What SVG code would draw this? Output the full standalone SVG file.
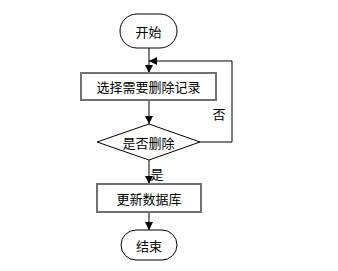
<svg xmlns="http://www.w3.org/2000/svg" width="338" height="271" viewBox="0 0 338 271">
<defs>
<marker id="arr" viewBox="0 0 10 10" refX="10" refY="5" markerWidth="8" markerHeight="8" markerUnits="userSpaceOnUse" orient="auto">
<path d="M0,0 L10,5 L0,10 z" fill="#000"/>
</marker>
<style>
.t{font-family:"Noto Sans CJK SC","Liberation Sans",sans-serif;font-size:13px;fill:#000;text-anchor:middle;dominant-baseline:central}
.term{fill:#fff;stroke:#000;stroke-width:1}
.proc{fill:#fff;stroke:#707070;stroke-width:2}
.dec{fill:#fff;stroke:#000;stroke-width:1}
.c{fill:none;stroke:#000;stroke-width:1}
</style>
</defs>
<rect width="338" height="271" fill="#fff"/>
<g id="connectors">
<path class="c" d="M149,48 V73" marker-end="url(#arr)"/>
<path class="c" d="M149,100 V124" marker-end="url(#arr)"/>
<path class="c" d="M200,142 H232 V61 H149" marker-end="url(#arr)"/>
<path class="c" d="M149,160 V184" marker-end="url(#arr)"/>
<path class="c" d="M149,212 V230" marker-end="url(#arr)"/>
<text class="t" x="219" y="113">否</text>
<text class="t" x="157" y="173">是</text>
</g>
<g id="start">
<rect class="term" x="120" y="14" width="57" height="34" rx="17"/>
<text class="t" x="148.5" y="31">开始</text>
</g>
<g id="select">
<rect class="proc" x="81" y="73" width="135" height="27"/>
<text class="t" x="148.5" y="86.5">选择需要删除记录</text>
</g>
<g id="decide">
<polygon class="dec" points="97,142 149,124 200,142 149,160"/>
<text class="t" x="148.5" y="142">是否删除</text>
</g>
<g id="update">
<rect class="proc" x="97" y="184" width="104" height="28"/>
<text class="t" x="149" y="198">更新数据库</text>
</g>
<g id="end">
<rect class="term" x="121" y="230" width="56" height="30" rx="15"/>
<text class="t" x="149" y="245">结束</text>
</g>
</svg>
